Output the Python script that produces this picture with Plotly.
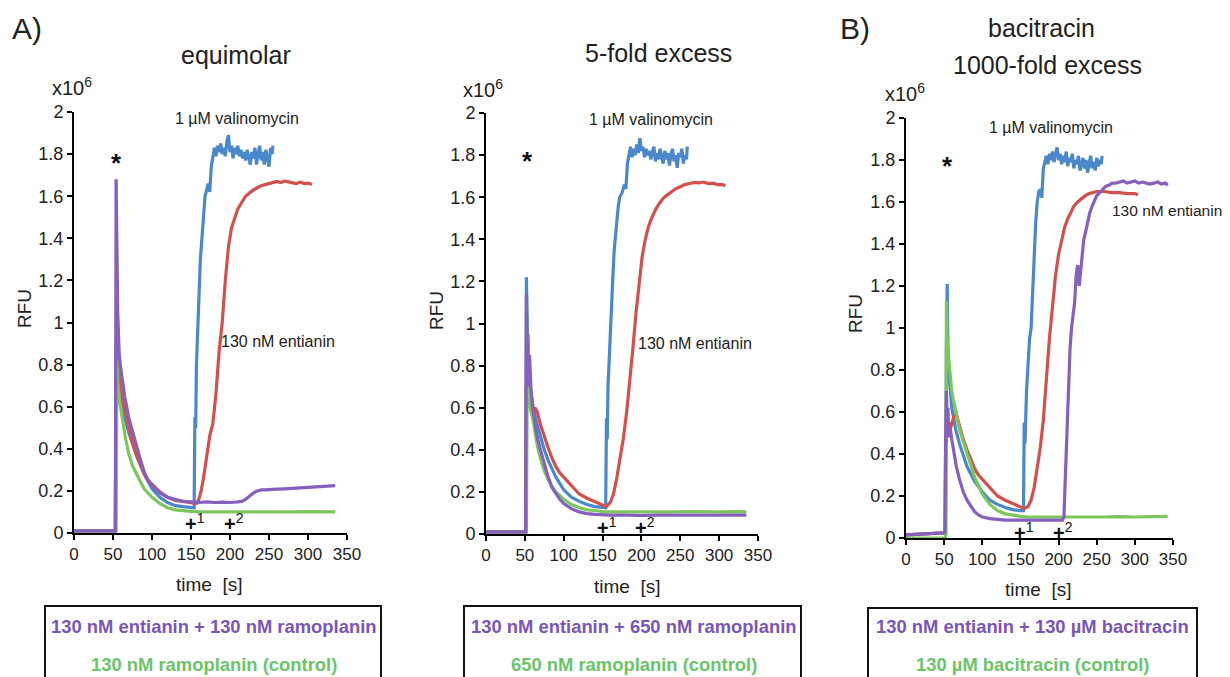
import plotly.graph_objects as go

# ---------------- data (RFU in units of 1e6, time in s) ----------------
# Panel A: equimolar
A_blue_t = [0, 53, 54, 55, 57, 60, 65, 70, 80, 90, 100, 110, 120, 130, 140, 150, 154, 155, 156, 157, 159, 162, 165, 168, 172, 174,
            176, 178, 180, 182, 184, 186, 188, 190, 192, 194, 196, 198, 200, 202, 204, 206, 208, 210, 212, 214, 216, 218, 220,
            222, 224, 226, 228, 230, 232, 234, 236, 238, 240, 242, 244, 246, 248, 250, 252, 254, 255]
A_blue_v = [0.01, 0.01, 0.9, 0.85, 0.75, 0.65, 0.55, 0.48, 0.37, 0.28, 0.21, 0.17, 0.145, 0.13, 0.125, 0.12, 0.12, 0.55, 0.5, 0.8,
            1.05, 1.3, 1.45, 1.6, 1.66, 1.62,
            1.74, 1.80, 1.83, 1.79, 1.84, 1.81, 1.85, 1.80, 1.83, 1.79, 1.86, 1.89, 1.81, 1.84, 1.78, 1.83, 1.80, 1.84, 1.79,
            1.82, 1.78, 1.81, 1.77, 1.82, 1.79, 1.75, 1.81, 1.78, 1.83, 1.75, 1.80, 1.84, 1.77, 1.81, 1.75, 1.82, 1.78, 1.74,
            1.83, 1.80, 1.84]

A_red_t = [0, 53, 54, 56, 58, 60, 63, 66, 70, 75, 80, 85, 90, 95, 100, 105, 110, 120, 130, 140, 150, 157, 160, 163, 166, 170,
           174, 178, 182, 186, 190, 194, 198, 202, 206, 210, 215, 220, 225, 230, 235, 240, 245, 250, 255, 260, 265, 270, 275,
           280, 285, 290, 295, 300, 305]
A_red_v = [0.01, 0.01, 0.8, 0.82, 0.74, 0.68, 0.62, 0.57, 0.5, 0.43, 0.37, 0.32, 0.28, 0.25, 0.23, 0.21, 0.195, 0.17, 0.155,
           0.15, 0.145, 0.14, 0.16, 0.2, 0.26, 0.35, 0.46, 0.52, 0.66, 0.86, 1.0, 1.2, 1.36, 1.45, 1.5, 1.54, 1.57, 1.6, 1.615,
           1.63, 1.64, 1.65, 1.655, 1.66, 1.665, 1.67, 1.665, 1.672, 1.668, 1.665, 1.66, 1.667, 1.66, 1.662, 1.655]

A_purple_t = [0, 53, 54, 55, 56, 57, 58, 60, 62, 65, 70, 75, 80, 85, 90, 95, 100, 110, 120, 130, 140, 150, 160, 170, 180, 190,
              200, 210, 215, 220, 225, 230, 235, 240, 245, 250, 260, 270, 280, 290, 300, 310, 320, 330, 335]
A_purple_v = [0.01, 0.01, 1.68, 1.3, 1.05, 0.95, 0.85, 0.78, 0.72, 0.65, 0.55, 0.48, 0.42, 0.35, 0.29, 0.25, 0.225, 0.19, 0.17,
              0.158, 0.15, 0.148, 0.145, 0.148, 0.145, 0.147, 0.145, 0.148, 0.15, 0.16, 0.175, 0.19, 0.2, 0.205, 0.205, 0.207,
              0.208, 0.21, 0.212, 0.215, 0.217, 0.22, 0.22, 0.223, 0.225]

A_green_t = [0, 54, 55, 56, 58, 60, 63, 66, 70, 75, 80, 85, 90, 95, 100, 110, 120, 130, 140, 150, 160, 180, 200, 220, 240, 260,
             280, 300, 320, 335]
A_green_v = [0.01, 0.01, 0.82, 0.72, 0.64, 0.6, 0.52, 0.45, 0.38, 0.32, 0.28, 0.245, 0.21, 0.19, 0.17, 0.14, 0.12, 0.11, 0.105,
             0.103, 0.1, 0.1, 0.098, 0.1, 0.1, 0.1, 0.1, 0.102, 0.1, 0.1]

# Panel B: 5-fold excess
B_blue_t = [0, 51, 52, 53, 54, 56, 58, 60, 65, 70, 75, 80, 90, 100, 110, 120, 130, 140, 150, 154, 155, 156, 157, 159, 161, 163,
            165, 167, 170, 172, 175, 178, 180,
            182, 184, 186, 188, 190, 192, 194, 196, 198, 200, 202, 204, 206, 208, 210, 212, 214, 216, 218, 220, 222, 224,
            226, 228, 230, 232, 234, 236, 238, 240, 242, 244, 246, 248, 250, 252, 254, 256, 258, 259]
B_blue_v = [0.01, 0.01, 1.22, 0.9, 0.8, 0.72, 0.66, 0.62, 0.53, 0.46, 0.4, 0.35, 0.27, 0.21, 0.175, 0.155, 0.14, 0.13, 0.125,
            0.125, 0.55, 0.45, 0.7, 0.9, 1.05, 1.2, 1.35, 1.45, 1.55, 1.6, 1.62, 1.66, 1.64,
            1.76, 1.80, 1.84, 1.79, 1.83, 1.80, 1.85, 1.81, 1.88, 1.82, 1.84, 1.79, 1.83, 1.80, 1.82, 1.78, 1.81, 1.84, 1.77,
            1.81, 1.78, 1.83, 1.79, 1.76, 1.82, 1.78, 1.81, 1.75, 1.80, 1.83, 1.77, 1.80, 1.74, 1.81, 1.79, 1.83, 1.76, 1.80,
            1.78, 1.84]

B_red_t = [0, 51, 52, 54, 56, 58, 60, 63, 66, 70, 75, 80, 85, 90, 95, 100, 110, 120, 130, 140, 150, 155, 160, 164, 168, 172,
           177, 181, 185, 189, 193, 197, 201, 205, 209, 213, 218, 223, 228, 233, 238, 244, 250, 256, 262, 268, 274, 280, 286,
           292, 298, 304, 308]
B_red_v = [0.01, 0.01, 0.7, 0.75, 0.62, 0.58, 0.56, 0.6, 0.58, 0.52, 0.46, 0.41, 0.36, 0.32, 0.29, 0.27, 0.225, 0.19, 0.17,
           0.155, 0.14, 0.13, 0.15, 0.19, 0.26, 0.35, 0.46, 0.58, 0.72, 0.88, 1.05, 1.2, 1.32, 1.4, 1.46, 1.5, 1.54, 1.57,
           1.595, 1.61, 1.625, 1.64, 1.65, 1.66, 1.665, 1.67, 1.668, 1.672, 1.665, 1.667, 1.66, 1.66, 1.655]

B_purple_t = [0, 51, 52, 53, 54, 55, 56, 58, 60, 63, 66, 70, 75, 80, 85, 90, 95, 100, 110, 120, 130, 140, 150, 160, 180, 200,
              220, 240, 260, 280, 300, 320, 335]
B_purple_v = [0.01, 0.01, 1.14, 0.8, 0.95, 0.7, 0.85, 0.68, 0.6, 0.52, 0.46, 0.4, 0.33, 0.27, 0.22, 0.19, 0.165, 0.145, 0.12,
              0.105, 0.097, 0.093, 0.09, 0.09, 0.09, 0.088, 0.09, 0.09, 0.09, 0.09, 0.092, 0.09, 0.09]

B_green_t = [0, 52, 53, 55, 57, 60, 63, 66, 70, 75, 80, 85, 90, 95, 100, 110, 120, 130, 140, 150, 160, 180, 200, 220, 240, 260,
             280, 300, 320, 335]
B_green_v = [0.01, 0.01, 0.75, 0.66, 0.6, 0.55, 0.48, 0.42, 0.36, 0.3, 0.26, 0.225, 0.2, 0.18, 0.165, 0.14, 0.125, 0.115,
             0.11, 0.107, 0.105, 0.105, 0.103, 0.105, 0.105, 0.107, 0.105, 0.105, 0.106, 0.105]

# Panel C: bacitracin, 1000-fold excess
C_blue_t = [0, 51, 52, 53, 54, 55, 57, 60, 65, 70, 75, 80, 90, 100, 110, 120, 130, 140, 150, 154, 155, 156, 158, 160, 162, 164,
            166, 168, 170, 172, 174, 176, 178, 180,
            182, 184, 186, 188, 190, 192, 194, 196, 198, 200, 202, 204, 206, 208, 210, 212, 214, 216, 218, 220, 222, 224,
            226, 228, 230, 232, 234, 236, 238, 240, 242, 244, 246, 248, 250, 252, 254, 256, 257]
C_blue_v = [0.015, 0.025, 0.025, 0.9, 1.21, 0.9, 0.75, 0.62, 0.52, 0.45, 0.39, 0.34, 0.27, 0.22, 0.18, 0.16, 0.145, 0.135,
            0.13, 0.13, 0.55, 0.45, 0.7, 0.85, 0.95, 1.0, 1.2, 1.4, 1.5, 1.6, 1.65, 1.66, 1.62, 1.76,
            1.79, 1.82, 1.78, 1.83, 1.80, 1.84, 1.79, 1.82, 1.86, 1.80, 1.83, 1.78, 1.82, 1.79, 1.84, 1.77, 1.81, 1.79, 1.83,
            1.76, 1.80, 1.78, 1.82, 1.75, 1.79, 1.81, 1.76, 1.80, 1.74, 1.79, 1.82, 1.76, 1.79, 1.75, 1.81, 1.77, 1.80, 1.78,
            1.82]

C_red_t = [0, 51, 52, 54, 56, 58, 60, 63, 66, 70, 75, 80, 85, 90, 95, 100, 110, 120, 130, 140, 150, 155, 160, 164, 168, 172,
           176, 180, 184, 188, 192, 196, 200, 204, 208, 212, 216, 220, 225, 230, 235, 240, 245, 250, 260, 270, 280, 290, 300, 304]
C_red_v = [0.015, 0.025, 0.45, 0.5, 0.55, 0.52, 0.55, 0.58, 0.59, 0.53, 0.47, 0.42, 0.37, 0.33, 0.3, 0.28, 0.235, 0.2, 0.18,
           0.165, 0.15, 0.14, 0.15, 0.18, 0.24, 0.33, 0.43, 0.56, 0.78, 0.95, 1.1, 1.25, 1.35, 1.42, 1.48, 1.52, 1.55, 1.58,
           1.6, 1.615, 1.63, 1.64, 1.645, 1.65, 1.65, 1.645, 1.645, 1.64, 1.64, 1.635]

C_purple_t = [0, 50, 51, 52, 53, 54, 55, 56, 58, 60, 63, 66, 70, 75, 80, 85, 90, 95, 100, 110, 120, 130, 140, 150, 160, 170,
              180, 190, 200, 205, 207, 209, 211, 213, 215, 217, 219, 221, 223, 225, 227, 229, 231, 233, 235, 238, 241, 244,
              247, 250, 254, 258, 262, 266, 270, 275, 280, 285, 290, 295, 300, 305, 310, 315, 320, 325, 330, 335, 340, 343]
C_purple_v = [0.015, 0.025, 0.025, 0.5, 0.7, 0.55, 0.62, 0.48, 0.52, 0.47, 0.4, 0.34, 0.28, 0.22, 0.18, 0.15, 0.125, 0.11, 0.1,
              0.092, 0.087, 0.085, 0.085, 0.085, 0.085, 0.085, 0.085, 0.085, 0.085, 0.085, 0.1, 0.3, 0.55, 0.75, 0.9, 1.0,
              1.05, 1.12, 1.25, 1.3, 1.2, 1.28, 1.38, 1.42, 1.45, 1.5, 1.55, 1.58, 1.61, 1.63, 1.645, 1.66, 1.675, 1.68, 1.69,
              1.69, 1.695, 1.70, 1.69, 1.695, 1.70, 1.69, 1.695, 1.69, 1.685, 1.69, 1.695, 1.685, 1.69, 1.68]

C_green_t = [0, 52, 53, 54, 56, 58, 60, 62, 65, 70, 75, 80, 85, 90, 95, 100, 110, 120, 130, 140, 150, 160, 180, 200, 220, 240,
             260, 280, 300, 320, 340, 343]
C_green_v = [0.0, 0.0, 1.13, 0.95, 0.85, 0.76, 0.7, 0.66, 0.6, 0.52, 0.46, 0.4, 0.34, 0.29, 0.25, 0.21, 0.16, 0.13, 0.115,
             0.108, 0.103, 0.1, 0.1, 0.098, 0.1, 0.1, 0.1, 0.102, 0.1, 0.102, 0.103, 0.103]

x_ticks = [0, 50, 100, 150, 200, 250, 300, 350]
y_ticks = [0, 0.2, 0.4, 0.6, 0.8, 1.0, 1.2, 1.4, 1.6, 1.8, 2.0]
y_tick_labels = ["0", "0.2", "0.4", "0.6", "0.8", "1", "1.2", "1.4", "1.6", "1.8", "2"]

panel_titles = ["equimolar", "5-fold excess", "bacitracin", "1000-fold excess"]
legend_purple = ["130 nM entianin + 130 nM ramoplanin", "130 nM entianin + 650 nM ramoplanin",
                 "130 nM entianin + 130 µM bacitracin"]
legend_green = ["130 nM ramoplanin (control)", "650 nM ramoplanin (control)", "130 µM bacitracin (control)"]

# ---------------- styling ----------------
# the page body has an 8 px margin, so the figure starts at (8, 8) in the window
OFF = 8
W, H = 1230 - OFF, 677 - OFF
BLUE, RED, PURPLE, GREEN = "#4A87CB", "#D3504D", "#8560BC", "#7CC65C"
PURPLE_TXT, GREEN_TXT = "#7A55B8", "#6CC46A"
FONT = "Liberation Sans, Arial, sans-serif"


def px(x):
    return (x - OFF) / W


def py(y):
    return 1 - (y - OFF) / H


# axis boxes in window pixels: (left, right, top(y=2), bottom(y=0))
boxes = [(74, 347, 112, 533), (486, 758, 113, 534), (906, 1173, 118, 538)]

panels = [
    (A_blue_t, A_blue_v, A_red_t, A_red_v, A_green_t, A_green_v, A_purple_t, A_purple_v),
    (B_blue_t, B_blue_v, B_red_t, B_red_v, B_green_t, B_green_v, B_purple_t, B_purple_v),
    (C_blue_t, C_blue_v, C_red_t, C_red_v, C_green_t, C_green_v, C_purple_t, C_purple_v),
]

fig = go.Figure()
layout_axes = {}
for i, (bt, bv, rt, rv, gt, gv, pt, pv) in enumerate(panels):
    n = "" if i == 0 else str(i + 1)
    xa, ya = "x" + n, "y" + n
    for t, v, c in [(bt, bv, BLUE), (rt, rv, RED), (gt, gv, GREEN), (pt, pv, PURPLE)]:
        fig.add_trace(go.Scatter(x=t, y=v, mode="lines", line=dict(color=c, width=3.2),
                                 xaxis=xa, yaxis=ya, showlegend=False, hoverinfo="skip"))
    l, r, top, bot = boxes[i]
    layout_axes["xaxis" + n] = dict(
        domain=[px(l), px(r)], range=[0, 350], tickvals=x_ticks, ticks="outside", ticklen=5,
        tickwidth=1.5, tickcolor="black", showline=True, linecolor="black", linewidth=2,
        showgrid=False, zeroline=False, anchor=ya, automargin=False,
        tickfont=dict(size=17, color="#222", family=FONT), fixedrange=True)
    layout_axes["yaxis" + n] = dict(
        domain=[py(bot), py(top)], range=[0, 2], tickvals=y_ticks, ticktext=y_tick_labels,
        ticks="outside", ticklen=5, tickwidth=1.5, tickcolor="black", showline=True,
        linecolor="black", linewidth=2, showgrid=False, zeroline=False, anchor=xa, automargin=False,
        tickfont=dict(size=18, color="#222", family=FONT), fixedrange=True)

fig.update_layout(**layout_axes)

ann = []


def add_text(text, x, y, size, color="#222", bold=False, textangle=0, xref="paper", yref="paper",
             xanchor="center", yanchor="middle"):
    if bold:
        text = "<b>" + text + "</b>"
    ann.append(dict(text=text, x=x, y=y, xref=xref, yref=yref, showarrow=False, xanchor=xanchor,
                    yanchor=yanchor, textangle=textangle, font=dict(size=size, color=color, family=FONT)))


# panel letters
add_text("A)", px(27), py(28), 30)
add_text("B)", px(855), py(28), 30)
# titles
add_text(panel_titles[0], px(236), py(55), 25)
add_text(panel_titles[1], px(658), py(53), 25)
add_text(panel_titles[2], px(1041), py(28), 25)
add_text(panel_titles[3], px(1047), py(65), 25)
# x10^6
for cx, cy in [(72, 86), (483, 88), (905, 92)]:
    add_text("x10<sup>6</sup>", px(cx), py(cy), 20)
# RFU
for cx, cy in [(24, 309), (436, 311), (855, 314)]:
    add_text("RFU", px(cx), py(cy), 19, textangle=-90)
# time [s]
for cx, cy in [(209, 584), (627, 586), (1038, 589)]:
    add_text("time  [s]", px(cx), py(cy), 19)

# in-plot labels (data coordinates)
inplot = [
    [("1 µM valinomycin", 209, 1.967), ("130 nM entianin", 262, 0.912)],
    [("1 µM valinomycin", 212, 1.97), ("130 nM entianin", 269, 0.907)],
    [("1 µM valinomycin", 190, 1.957)],
]
stars = [(54, 1.76), (53, 1.77), (55, 1.77)]
plus_y = [0.048, 0.035, 0.033]
for i in range(3):
    n = "" if i == 0 else str(i + 1)
    for txt, x, y in inplot[i]:
        add_text(txt, x, y, 16, xref="x" + n, yref="y" + n)
    sx, sy = stars[i]
    add_text("<b>*</b>", sx, sy, 26, color="#111", xref="x" + n, yref="y" + n)
    for k, xv in enumerate([150, 200]):
        ann.append(dict(text="<b>+</b><sup>%d</sup>" % (k + 1), x=xv, y=plus_y[i], xref="x" + n, yref="y" + n,
                        showarrow=False, xanchor="center", yanchor="middle", xshift=4,
                        font=dict(size=20, color="#111", family=FONT)))
# panel C entianin label sits at the right page edge
add_text("130 nM entianin", px(1224), py(210), 15.5, xanchor="right")

# legend boxes
leg_boxes = [(45, 381, 606, 214), (464, 801, 606, 634), (868, 1197, 608, 1032)]
shapes = []
for i, (l, r, top, cx) in enumerate(leg_boxes):
    shapes.append(dict(type="rect", xref="paper", yref="paper", x0=px(l), x1=px(r), y0=py(top), y1=py(700),
                       line=dict(color="#111", width=2), fillcolor="rgba(0,0,0,0)"))
    add_text(legend_purple[i], px(cx), py(626), 18.4, color=PURPLE_TXT, bold=True)
    add_text(legend_green[i], px(cx), py(664), 18.4, color=GREEN_TXT, bold=True)

fig.update_layout(width=W, height=H, margin=dict(l=0, r=0, t=0, b=0, pad=0, autoexpand=False),
                  paper_bgcolor="white", plot_bgcolor="white", annotations=ann, shapes=shapes,
                  showlegend=False, font=dict(family=FONT))

fig.write_html("out.html")
